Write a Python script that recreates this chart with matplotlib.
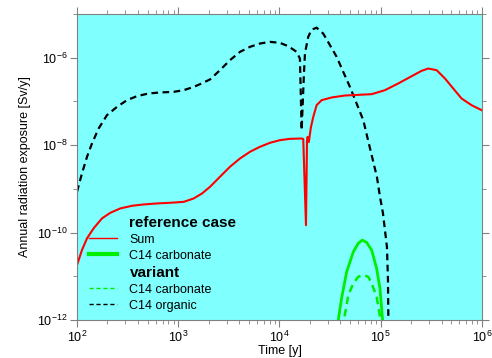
"""
Annual radiation exposure over time: reference case vs variant
Values read off log-log axes, kept as log10 exponents.
"""

import numpy as np
import matplotlib.pyplot as plt
from matplotlib.lines import Line2D
from matplotlib.ticker import LogLocator, NullFormatter

plt.rcParams["font.family"] = ["Liberation Sans", "DejaVu Sans"]
plt.rcParams["mathtext.default"] = "regular"

# reference case, Sum  (log10 time [y], log10 exposure [Sv/y])
sum_log_t = [2.000, 2.049, 2.099, 2.165, 2.247, 2.329, 2.428, 2.543, 2.659,
             2.790, 2.922, 3.054, 3.153, 3.235, 3.314, 3.412, 3.511, 3.610,
             3.709, 3.807, 3.906, 4.005, 4.104, 4.219, 4.235, 4.262, 4.272,
             4.278, 4.290, 4.310, 4.334, 4.367, 4.417, 4.515, 4.647, 4.778,
             4.911, 5.042, 5.173, 5.306, 5.404, 5.470, 5.553, 5.635, 5.717,
             5.799, 5.898, 5.997]
sum_log_v = [-10.743, -10.40, -10.13, -9.90, -9.675, -9.547, -9.447, -9.387,
             -9.356, -9.333, -9.318, -9.297, -9.219, -9.105, -8.953, -8.724,
             -8.495, -8.305, -8.152, -8.038, -7.947, -7.886, -7.856, -7.848,
             -7.860, -9.830, -7.900, -7.810, -7.930, -7.600, -7.353, -7.086,
             -6.971, -6.910, -6.865, -6.850, -6.834, -6.743, -6.590, -6.423,
             -6.301, -6.248, -6.286, -6.476, -6.705, -6.933, -7.086, -7.200]

# reference case, C14 carbonate
carb_log_t = [4.575, 4.581, 4.614, 4.664, 4.730, 4.778, 4.818, 4.861, 4.911,
              4.960, 4.993, 5.019, 5.025]
carb_log_v = [-12.2, -12.0, -11.50, -10.896, -10.438, -10.247, -10.171,
              -10.225, -10.40, -10.82, -11.28, -12.0, -12.2]

# variant, C14 carbonate
carb_var_log_t = [4.630, 4.637, 4.680, 4.730, 4.778, 4.828, 4.877, 4.911,
                  4.960, 4.999, 5.005]
carb_var_log_v = [-12.2, -12.0, -11.43, -11.16, -11.01, -10.97, -11.01,
                  -11.16, -11.47, -12.0, -12.2]

# variant, C14 organic
org_log_t = [2.000, 2.049, 2.099, 2.148, 2.214, 2.296, 2.395, 2.494, 2.593,
             2.708, 2.823, 2.955, 3.054, 3.153, 3.215, 3.314, 3.412, 3.511,
             3.610, 3.709, 3.807, 3.906, 4.005, 4.087, 4.170, 4.202, 4.209,
             4.219, 4.242, 4.252, 4.284, 4.318, 4.367, 4.433, 4.499, 4.565,
             4.630, 4.696, 4.762, 4.828, 4.871, 4.963, 4.993, 5.022, 5.062,
             5.072, 5.078]
org_log_v = [-9.067, -8.647, -8.267, -7.961, -7.618, -7.314, -7.125, -6.971,
             -6.879, -6.818, -6.795, -6.781, -6.743, -6.667, -6.606, -6.498,
             -6.286, -6.057, -5.867, -5.752, -5.676, -5.638, -5.661, -5.737,
             -5.867, -6.020, -6.667, -7.657, -6.360, -5.900, -5.524, -5.360,
             -5.314, -5.451, -5.714, -5.981, -6.324, -6.667, -7.047, -7.429,
             -7.847, -8.730, -9.180, -9.550, -10.330, -11.090, -12.500]


def to_lin(e):
    return np.power(10.0, e)


fig = plt.figure(figsize=(4.92, 3.58), dpi=100)
ax = fig.add_axes([0.1565, 0.106, 0.823, 0.855])
ax.set_facecolor("#80ffff")

ax.plot(to_lin(org_log_t), to_lin(org_log_v), color="black", lw=1.6,
        ls=(0, (3, 2)))
ax.plot(to_lin(carb_log_t), to_lin(carb_log_v), color="#00ee00", lw=2.0)
ax.plot(to_lin(carb_var_log_t), to_lin(carb_var_log_v), color="#00ee00",
        lw=1.8, ls=(0, (3, 2)))
ax.plot(to_lin(sum_log_t), to_lin(sum_log_v), color="#ff0000", lw=1.5)

ax.set_xscale("log")
ax.set_yscale("log")
ax.set_xlim(1e2, 1e6)
ax.set_ylim(1e-12, 1e-5)

ax.yaxis.set_major_locator(LogLocator(base=100))
ax.yaxis.set_minor_locator(LogLocator(base=10, subs=[1.0], numticks=20))
ax.yaxis.set_minor_formatter(NullFormatter())
ax.xaxis.set_minor_locator(LogLocator(base=10, subs=np.arange(2, 10), numticks=20))
ax.xaxis.set_minor_formatter(NullFormatter())

for s in ax.spines.values():
    s.set_color("#808080")
ax.tick_params(which="both", direction="out", color="#808080",
               top=True, right=True, labelsize=9)
ax.tick_params(which="major", length=5, pad=2)
ax.tick_params(which="minor", length=3)

ax.set_xlabel("Time [y]", fontsize=9, labelpad=0)
ax.set_ylabel("Annual radiation exposure [Sv/y]", fontsize=9)

# legend with section headers
blank = Line2D([], [], color="none")
handles = [
    blank,
    Line2D([], [], color="#ff0000", lw=1),
    Line2D([], [], color="#00ee00", lw=3),
    blank,
    Line2D([], [], color="#00ee00", lw=1, ls=(0, (3, 2))),
    Line2D([], [], color="black", lw=1, ls=(0, (3, 2))),
]
labels = ["reference case", "Sum", "C14 carbonate", "variant",
          "C14 carbonate", "C14 organic"]
leg = ax.legend(handles, labels, loc="lower left", bbox_to_anchor=(0.003, -0.01),
                frameon=False, fontsize=9, handlelength=2.2, handletextpad=1.0,
                labelspacing=0.32)
for i in (0, 3):
    leg.get_texts()[i].set_fontweight("bold")
    leg.get_texts()[i].set_fontsize(11)

fig.savefig("out.png", dpi=100)
